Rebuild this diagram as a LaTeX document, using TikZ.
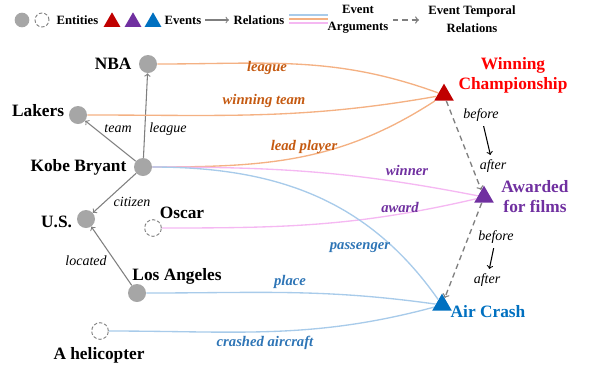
\documentclass[tikz,border=0pt]{standalone}
\usepackage{fontspec}
\setmainfont{Liberation Serif}
\usetikzlibrary{shapes.geometric,arrows,positioning,calc}

\definecolor{entgray}{HTML}{A6A6A6}
\definecolor{relgray}{HTML}{7F7F7F}
\definecolor{winred}{HTML}{C00000}
\definecolor{textred}{HTML}{FF0000}
\definecolor{awdpurple}{HTML}{7030A0}
\definecolor{crashblue}{HTML}{0070C0}
\definecolor{argorange}{HTML}{F4B183}
\definecolor{argpink}{HTML}{F5B8F2}
\definecolor{argblue}{HTML}{A8CBEA}
\definecolor{lblorange}{HTML}{C55A11}
\definecolor{lblblue}{HTML}{2E75B6}

\tikzset{
    entity/.style={circle, fill=entgray, minimum size=13.5pt, inner sep=0pt},
    hidden/.style={circle, draw=relgray, fill=white, dash pattern=on 2.5pt off 1.5pt, line width=0.7pt, minimum size=12.5pt, inner sep=0pt},
    event/.style={regular polygon, regular polygon sides=3, minimum size=17pt, inner sep=0pt},
    enttext/.style={font=\fontsize{13}{15}\selectfont\bfseries},
    evtext/.style={font=\fontsize{13}{15}\selectfont\bfseries, align=center},
    rel/.style={->, draw=relgray, line width=0.8pt},
    rellabel/.style={font=\fontsize{10.5}{12}\selectfont\itshape},
    arg/.style={line width=1pt},
    arglabel/.style={font=\fontsize{11}{13}\selectfont\bfseries\itshape},
    temporal/.style={->, draw=relgray, dash pattern=on 4pt off 3pt, line width=1pt},
    legend/.style={font=\fontsize{9.5}{13}\selectfont\bfseries, align=center}
}

\begin{document}
\begin{tikzpicture}[x=0.75pt, y=-0.75pt]
    \useasboundingbox (0,0) rectangle (602,365);

    % legend
    \node (legent) [entity, minimum size=11pt] at (22,20) {};
    \node (leghid) [hidden, minimum size=10.5pt] at (42,20) {};
    \node (legenttxt) [legend, anchor=west] at (52,20) {Entities};
    \node (legred) [event, fill=winred, minimum size=14.5pt] at (112,22) {};
    \node (legpurple) [event, fill=awdpurple, minimum size=14.5pt] at (133,22) {};
    \node (legblue) [event, fill=crashblue, minimum size=14.5pt] at (153,22) {};
    \node (legevt) [legend, anchor=west] at (160,20) {Events};
    \coordinate (relA) at (205,20);
    \coordinate (relB) at (229,20);
    \draw [rel] (relA) -- (relB);
    \node (legrel) [legend, anchor=west] at (229,20) {Relations};
    \coordinate (argA) at (289,19);
    \coordinate (argB) at (328,19);
    \draw [arg, argblue] ([yshift=3pt]argA) -- ([yshift=3pt]argB);
    \draw [arg, argorange] (argA) -- (argB);
    \draw [arg, argpink] ([yshift=-3pt]argA) -- ([yshift=-3pt]argB);
    \node (legarg) [legend] at (358,19) {Event\\Arguments};
    \coordinate (tmpA) at (393,20);
    \coordinate (tmpB) at (419,20);
    \draw [temporal] (tmpA) -- (tmpB);
    \node (legtmp) [legend] at (472,19) {Event Temporal\\Relations};

    % entities
    \node (nba) [entity] at (148,64) {};
    \node (lakers) [entity] at (78,115) {};
    \node (kobe) [entity] at (143,167) {};
    \node (us) [entity] at (86,219) {};
    \node (oscar) [hidden] at (153,228) {};
    \node (la) [entity] at (137,293) {};
    \node (heli) [hidden] at (100,331) {};

    \node (nbatxt) [enttext, left=2pt of nba] {NBA};
    \node (lakerstxt) [enttext, left=0pt of lakers, yshift=3pt] {Lakers};
    \node (kobetxt) [enttext, left=2pt of kobe] {Kobe Bryant};
    \node (ustxt) [enttext, left=0pt of us, yshift=-2pt] {U.S.};
    \node (oscartxt) [enttext] at (182,213) {Oscar};
    \node (latxt) [enttext] at (177,276) {Los Angeles};
    \node (helitxt) [enttext] at (99,355) {A helicopter};

    % events
    \node (win) [event, fill=winred] at (444,95) {};
    \node (award) [event, fill=awdpurple] at (484,197) {};
    \node (crash) [event, fill=crashblue] at (442,305) {};
    \node (wintxt) [evtext, text=textred] at (513,75) {Winning\\Championship};
    \node (awardtxt) [evtext, text=awdpurple] at (535,197) {Awarded\\for films};
    \node (crashtxt) [evtext, text=crashblue] at (488,312) {Air Crash};

    % relations
    \draw [rel] (kobe) -- (nba);
    \draw [rel] (kobe) -- (lakers);
    \draw [rel] (kobe) -- (us);
    \draw [rel] (la) -- (us);
    \node (leaguerel) [rellabel] at (168,129) {league};
    \node (teamrel) [rellabel] at (118,129) {team};
    \node (citizenrel) [rellabel] at (132,202) {citizen};
    \node (locatedrel) [rellabel] at (86,261) {located};

    % event arguments
    \draw [arg, argorange] (nba) to[out=0, in=160] (win);
    \draw [arg, argorange] (lakers) to[out=0, in=190] (win);
    \draw [arg, argorange] (kobe) to[out=0, in=213] (win);
    \draw [arg, argpink] (kobe) to[out=0, in=169] (award);
    \draw [arg, argpink] (oscar) to[out=0, in=193] (award);
    \draw [arg, argblue] (kobe) to[out=0, in=125] (crash);
    \draw [arg, argblue] (la) to[out=0, in=172] (crash);
    \draw [arg, argblue] (heli) to[out=0, in=195] (crash);
    \node (leaguearg) [arglabel, text=lblorange] at (267,68) {league};
    \node (teamarg) [arglabel, text=lblorange] at (264,101) {winning team};
    \node (playerarg) [arglabel, text=lblorange] at (304,147) {lead player};
    \node (winnerarg) [arglabel, text=awdpurple] at (407,170) {winner};
    \node (awardarg) [arglabel, text=awdpurple] at (400,207) {award};
    \node (passarg) [arglabel, text=lblblue] at (360,248) {passenger};
    \node (placearg) [arglabel, text=lblblue] at (290,282) {place};
    \node (crasharg) [arglabel, text=lblblue] at (265,343) {crashed aircraft};

    % temporal relations
    \draw [temporal] (win) -- (award);
    \draw [temporal] (award) -- (crash);
    \node (before1) [rellabel] at (481,115) {before};
    \node (after1) [rellabel] at (493,166) {after};
    \draw [->, thick] (before1) -- (after1);
    \node (before2) [rellabel] at (496,237) {before};
    \node (after2) [rellabel] at (487,280) {after};
    \draw [->, thick] (before2) -- (after2);
\end{tikzpicture}
\end{document}
